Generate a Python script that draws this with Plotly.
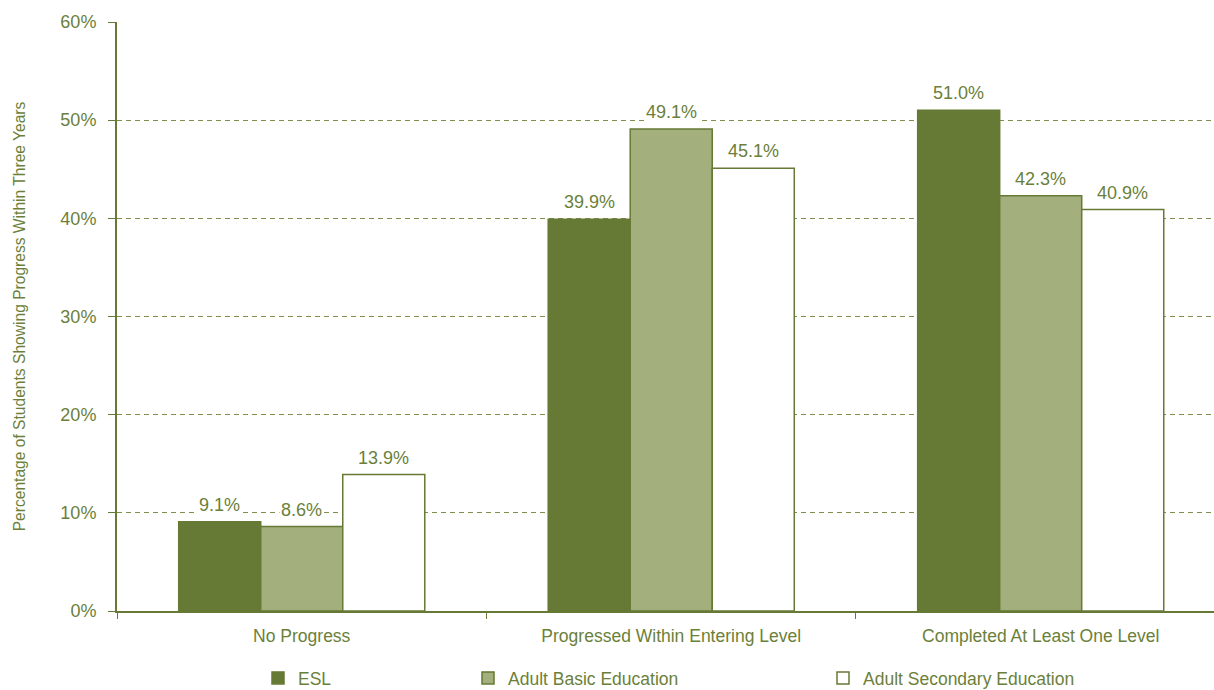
import plotly.graph_objects as go

categories = ["No Progress", "Progressed Within Entering Level", "Completed At Least One Level"]
series_names = ["ESL", "Adult Basic Education", "Adult Secondary Education"]
esl = [9.1, 39.9, 51.0]
abe = [8.6, 49.1, 42.3]
ase = [13.9, 45.1, 40.9]
y_ticks = [0, 10, 20, 30, 40, 50, 60]
y_tick_labels = ["0%", "10%", "20%", "30%", "40%", "50%", "60%"]

W, H = 1214, 690
ML, MR, MT, MB = 117, 0, 22, 79
XR = [-0.5, 2.469]
BARGAP = 0.334

GREEN = "#667a35"
LIGHT = "#a3af7c"
TEXT = "#6b7f3a"
GRID = "#7d8f4c"
FONT = "Liberation Sans, Arial, sans-serif"

series = [esl, abe, ase]
fills = [GREEN, LIGHT, "#ffffff"]
legends = ["legend", "legend2", "legend3"]

fig = go.Figure()
for name, vals, fill, lg in zip(series_names, series, fills, legends):
    fig.add_trace(go.Bar(
        x=categories, y=vals, name=name,
        marker=dict(color=fill, line=dict(color=GREEN, width=1.5)),
        legend=lg, showlegend=True, hoverinfo="skip",
    ))

plot_w = W - ML - MR
px_per_cat = plot_w / (XR[1] - XR[0])
bar_px = px_per_cat * (1 - BARGAP) / len(series)
for i, vals in enumerate(series):
    off = (i - (len(series) - 1) / 2) * bar_px
    for c, v in zip(categories, vals):
        fig.add_annotation(
            x=c, y=v, text=f"{v:.1f}%", showarrow=False,
            xshift=off, yshift=17, yanchor="middle",
            bgcolor="white", borderpad=1,
            font=dict(family=FONT, size=18, color=TEXT),
        )

plot_h = H - MT - MB
leg_y = (H - MB - 678) / plot_h
legend_marker_px = [277, 487, 842]
leg_common = dict(orientation="h", yanchor="middle", y=leg_y, xanchor="left",
                  font=dict(family=FONT, size=17.5, color=TEXT),
                  bgcolor="rgba(0,0,0,0)", borderwidth=0, itemclick=False,
                  itemdoubleclick=False)
lay_leg = {}
for lg, mx in zip(legends, legend_marker_px):
    lay_leg[lg] = dict(leg_common, x=(mx - 19 - ML) / plot_w)

fig.update_layout(
    width=W, height=H,
    margin=dict(l=ML, r=MR, t=MT, b=MB, pad=0, autoexpand=False),
    paper_bgcolor="white", plot_bgcolor="white",
    barmode="group", bargap=BARGAP, bargroupgap=0,
    showlegend=True,
    font=dict(family=FONT, size=18, color=TEXT),
    xaxis=dict(
        range=XR, showgrid=False, showline=True, linecolor=GREEN, linewidth=2,
        ticks="outside", tickson="boundaries", ticklen=6, tickcolor=GREEN, tickwidth=1,
        tickfont=dict(family=FONT, size=17.5, color=TEXT), zeroline=False,
        fixedrange=True, automargin=False, ticklabelstandoff=8,
    ),
    yaxis=dict(
        range=[0, 60], tickvals=y_ticks, ticktext=y_tick_labels,
        showgrid=True, gridcolor=GRID, griddash="5px,4px", gridwidth=1,
        showline=True, linecolor=GREEN, linewidth=2,
        ticks="outside", ticklen=7, tickcolor=GREEN, tickwidth=1,
        tickfont=dict(family=FONT, size=18, color=TEXT),
        zeroline=False, fixedrange=True, automargin=False, ticklabelstandoff=8,
        title=dict(text="Percentage of Students Showing Progress Within Three Years",
                   font=dict(family=FONT, size=15.6, color=TEXT), standoff=31),
    ),
    **lay_leg,
)

fig.write_html("out.html", config={"displayModeBar": False},
               post_script="document.body.style.margin='0';document.body.style.overflow='hidden';")
